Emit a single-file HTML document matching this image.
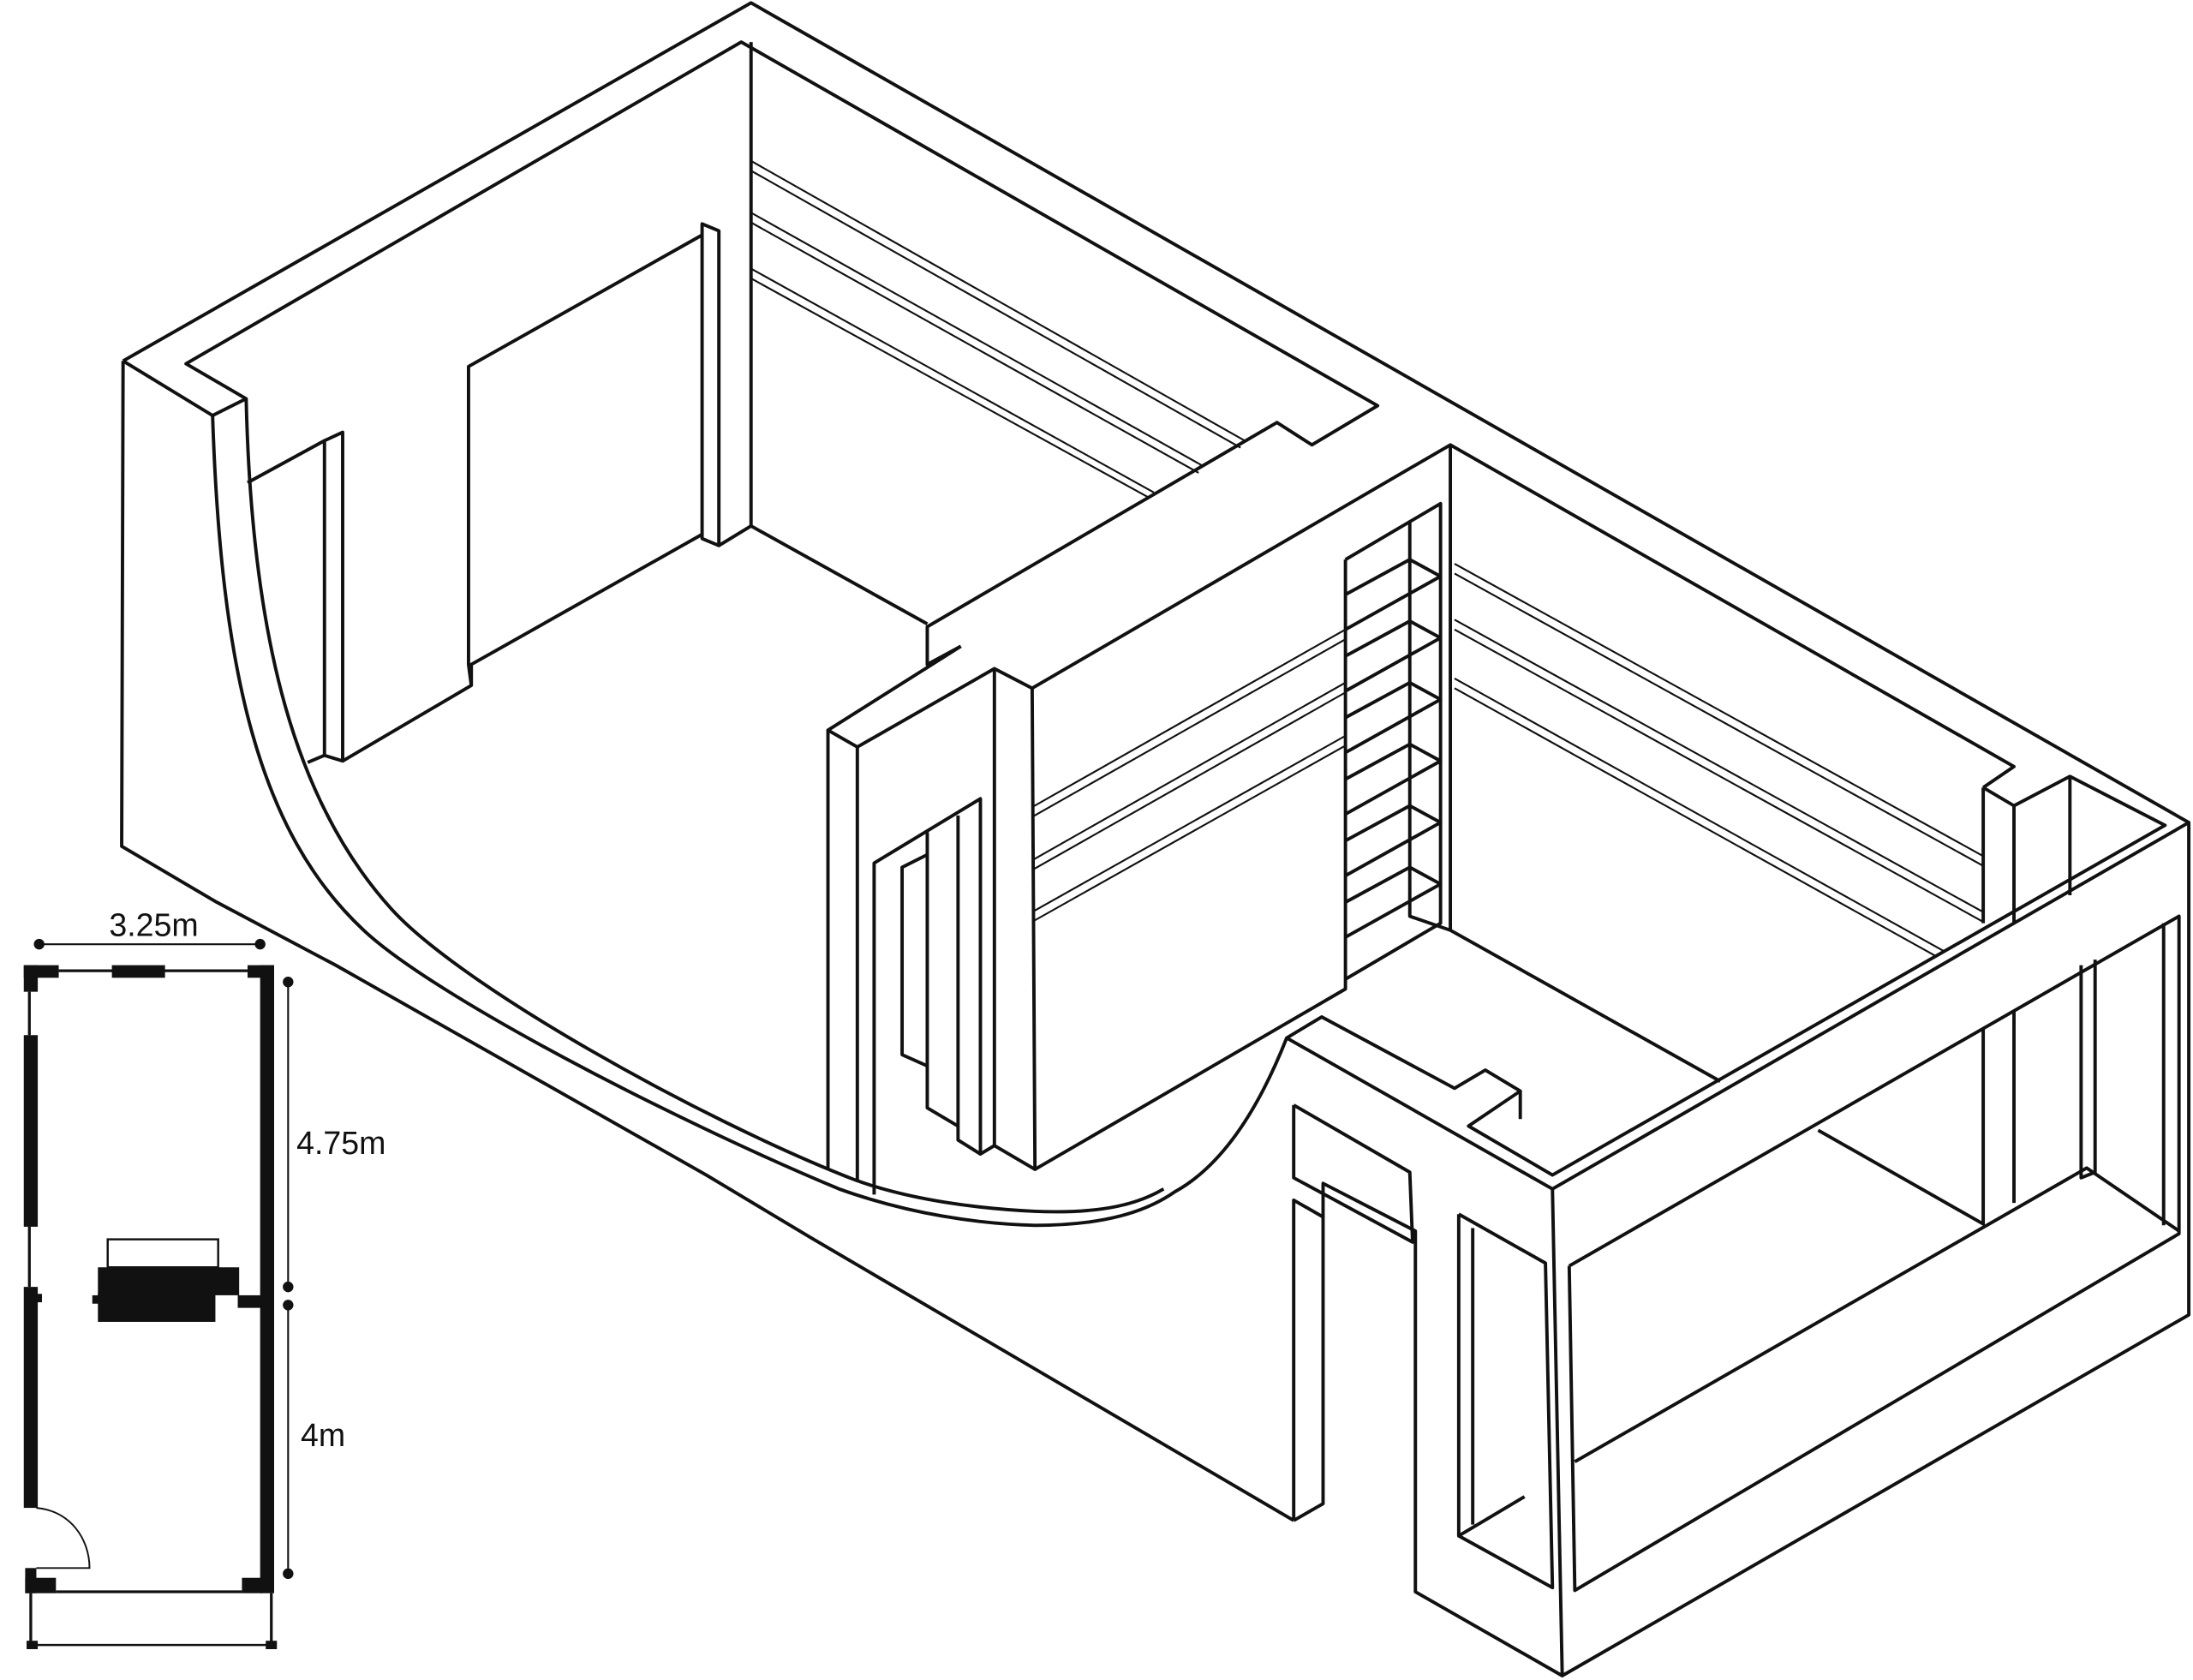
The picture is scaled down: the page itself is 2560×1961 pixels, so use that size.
<!DOCTYPE html>
<html><head><style>html,body{margin:0;padding:0;background:#fff}svg{display:block}</style></head>
<body>
<svg width="2560" height="1961" viewBox="0 0 1568 1201" xmlns="http://www.w3.org/2000/svg">
<g fill="none" stroke="#111" stroke-width="2.4" stroke-linejoin="round">
<polyline points="88,258 537,2 1565,588"/>
<polyline points="88,258 87,605 155,645 240,690 505,840 580,885 925,1087"/>
<polyline points="88,258 152,297 176,285 133,260 530,30 985,290 938,318 913,302 663,448 663,475 687,462"/>
<polyline points="925,1087 946,1075 946,870"/>
<path d="M152,297 C158,480 185,595 260,665 C310,712 480,800 600,850 C650,868 700,875 740,876 C790,876 820,866 840,852 C880,830 905,780 920,742"/>
<path d="M176,285 C180,460 212,575 280,650 C330,705 500,800 610,843 C650,858 700,864 740,866 C790,868 815,860 832,850"/>
<polyline points="537,30 537,376 663,446"/>
<polyline points="537,376 514,390 514,165 502,160 502,385 514,390"/>
<polyline points="502,168 335,262 335,475 337,490 245,544"/>
<polyline points="337,490 337,475 502,382"/>
<polyline points="177,345 232,315 232,540 245,544 245,309 232,315"/>
<polyline points="220,545 232,540"/>
<g stroke-width="1.3">
<line x1="537" y1="115" x2="890" y2="315"/><line x1="537" y1="122" x2="887" y2="320"/>
<line x1="537" y1="152" x2="860" y2="333"/><line x1="537" y1="159" x2="857" y2="338"/>
<line x1="537" y1="192" x2="825" y2="352"/><line x1="537" y1="199" x2="822" y2="356"/>
<line x1="738" y1="577" x2="962" y2="450"/><line x1="738" y1="584" x2="962" y2="457"/>
<line x1="738" y1="615" x2="962" y2="488"/><line x1="738" y1="622" x2="962" y2="495"/>
<line x1="738" y1="652" x2="962" y2="526"/><line x1="738" y1="659" x2="962" y2="533"/>
<line x1="1040" y1="403" x2="1418" y2="612"/><line x1="1040" y1="410" x2="1418" y2="619"/>
<line x1="1040" y1="443" x2="1418" y2="652"/><line x1="1040" y1="450" x2="1418" y2="659"/>
<line x1="1040" y1="485" x2="1390" y2="680"/><line x1="1040" y1="492" x2="1385" y2="684"/>
</g>
<polyline points="687,462 592,522 613,534 711,478 738,492 1037,318 1440,548 1418,563"/>
<polyline points="592,522 592,835"/>
<polyline points="613,534 613,845"/>
<polyline points="711,478 711,819 740,836 738,492"/>
<polyline points="740,836 962,707 962,400"/>
<polyline points="625,854 625,617 701,571 701,825 711,819"/>
<polyline points="663,595 663,792 685,805"/>
<polyline points="685,583 685,815 701,825"/>
<polyline points="663,611 645,620 645,754 663,762"/>
<polyline points="962,400 1030,360 1030,660 962,700"/>
<polyline points="1008,372 1008,655 1037,665 1037,318"/>
<polyline points="962,425 1008,400 1030,412 962,450"/>
<polyline points="962,469 1008,444 1030,456 962,494"/>
<polyline points="962,513 1008,488 1030,500 962,538"/>
<polyline points="962,557 1008,532 1030,544 962,582"/>
<polyline points="962,601 1008,576 1030,588 962,626"/>
<polyline points="962,645 1008,620 1030,632 962,670"/>
<polyline points="1037,665 1230,773"/>
<polyline points="1418,563 1418,660"/>
<polyline points="1418,563 1440,576 1480,555 1548,590 1110,840 1050,805 1087,780 1062,765 1040,778 945,727 920,742 1110,850 1565,588 1565,940 1117,1198 1012,1138 1012,880 946,846 946,870 925,858 925,1087"/>
<polyline points="1440,576 1440,660"/>
<polyline points="1480,555 1480,640"/>
<polyline points="1087,780 1087,800"/>
<polyline points="1110,850 1117,1198"/>
<polyline points="925,790 1008,838 1010,888 925,842 925,790"/>
<polyline points="1122,905 1558,655 1558,882 1126,1137 1122,905"/>
<polyline points="1126,1045 1492,835 1558,880"/>
<polyline points="1547,660 1547,876"/>
<polyline points="1488,690 1488,842 1498,838 1498,686"/>
<polyline points="1418,735 1418,875 1300,808"/>
<polyline points="1440,722 1440,860"/>
<polyline points="1043,868 1105,903 1110,1135 1043,1098 1043,868"/>
<polyline points="1053,878 1053,1090"/>
<polyline points="1043,1098 1090,1070"/>
</g>
<g fill="#111" stroke="none">
<rect x="17" y="690" width="25" height="9"/><rect x="17" y="690" width="10" height="19"/>
<rect x="80" y="690" width="38" height="9"/>
<rect x="177" y="690" width="19" height="9"/><rect x="186" y="690" width="10" height="449"/>
<rect x="17" y="740" width="10" height="137"/>
<rect x="17" y="920" width="10" height="158"/><rect x="26" y="925" width="4" height="6"/>
<rect x="70" y="906" width="101" height="20"/><rect x="70" y="924" width="84" height="21"/><rect x="66" y="926" width="6" height="6"/>
<rect x="170" y="926" width="17" height="9"/>
<rect x="18" y="1121" width="8" height="18"/><rect x="18" y="1128" width="22" height="11"/>
<rect x="173" y="1128" width="15" height="11"/>
<rect x="19" y="1173" width="8" height="6"/><rect x="190" y="1173" width="8" height="6"/>
<circle cx="28" cy="675" r="3.8"/><circle cx="186" cy="675" r="3.8"/>
<circle cx="206" cy="702" r="3.8"/><circle cx="206" cy="920" r="3.8"/>
<circle cx="206" cy="933" r="3.8"/><circle cx="206" cy="1125" r="3.8"/>
</g>
<g fill="none" stroke="#111">
<line x1="42" y1="694" x2="177" y2="694" stroke-width="2"/>
<line x1="21" y1="709" x2="21" y2="740" stroke-width="2"/>
<line x1="21" y1="877" x2="21" y2="920" stroke-width="2"/>
<rect x="77" y="886" width="79" height="20" stroke-width="1.5"/>
<line x1="40" y1="1138" x2="173" y2="1138" stroke-width="2"/>
<path d="M26,1121 L64,1121 C64,1100 50,1080 26,1078" stroke-width="1.2"/>
<line x1="22" y1="1139" x2="22" y2="1176" stroke-width="2"/>
<line x1="194" y1="1139" x2="194" y2="1176" stroke-width="2"/>
<line x1="24" y1="1176" x2="193" y2="1176" stroke-width="1.5"/>
<line x1="28" y1="675" x2="186" y2="675" stroke-width="1.3"/>
<line x1="206" y1="702" x2="206" y2="920" stroke-width="1.3"/>
<line x1="206" y1="933" x2="206" y2="1125" stroke-width="1.3"/>
</g>
<g font-family="Liberation Sans, sans-serif" font-size="23" fill="#111">
<text x="78" y="669">3.25m</text>
<text x="212" y="825">4.75m</text>
<text x="215" y="1034">4m</text>
</g>
</svg>
</body></html>
